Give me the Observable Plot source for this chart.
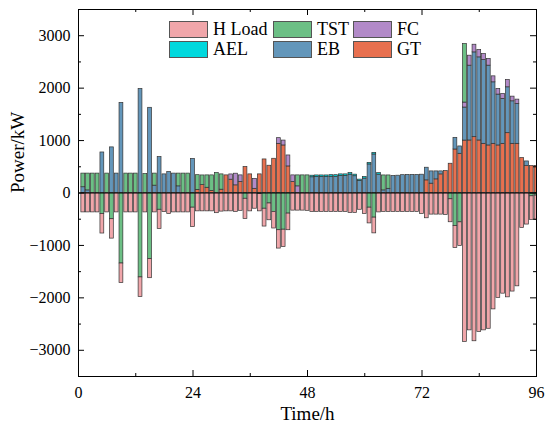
<!DOCTYPE html>
<html>
<head>
<meta charset="utf-8">
<script src="https://cdn.jsdelivr.net/npm/d3@7"></script>
<script src="https://cdn.jsdelivr.net/npm/@observablehq/plot@0.6"></script>
<style>
  body { margin: 0; background: #fff; }
  #wrap { position: relative; width: 550px; height: 434px; }
  #wrap svg text { font-family: "Liberation Serif", serif; font-variant-numeric: normal; }
  #legend { position: absolute; left: 169px; top: 21px; display: grid;
            grid-template-columns: 104px 80px 80px; row-gap: 3px;
            font-family: "Liberation Serif", serif; font-size: 18px; color: #000; }
  .item { display: flex; align-items: center; height: 17px; white-space: nowrap; }
  .sw { width: 37px; height: 15px; border: 1px solid #555; margin-right: 5px; }
</style>
</head>
<body>
<div id="wrap"><div id="legend"></div></div>
<script>
// ---- data (hour 1..96) ----
const hours = d3.range(1, 97);
const seriesNames = ["GT", "EB", "AEL", "FC", "TST", "H Load"];
const seriesColors = ["#E8704F", "#6396BA", "#00D8DD", "#B28AC8", "#6CBF85", "#F0A6AA"];
const legendOrder = ["H Load", "TST", "FC", "AEL", "EB", "GT"];
const xTickValues = [0, 24, 48, 72, 96];
const xMinorValues = [12, 36, 60, 84];
const yTickValues = [-3000, -2000, -1000, 0, 1000, 2000, 3000];
const yMinorValues = [-2500, -1500, -500, 500, 1500, 2500];

const GT = [0,0,0,0,0,0,0,0,0,0,0,0,0,0,0,0,0,0,0,0,0,0,0,0,
  60,150,100,40,0,63,336,254,146,209,495,355,80,355,640,520,653,938,907,507,209,0,0,0,
  0,0,0,0,0,0,0,0,0,0,0,0,0,0,0,0,0,0,0,0,0,0,0,0,
  241,178,260,355,418,558,830,748,1000,1002,1065,1002,938,907,938,907,938,1141,938,938,666,513,513,513];
const EB = [110,50,0,0,773,0,870,370,1718,0,0,0,1984,0,1625,140,685,355,400,370,127,0,0,650,
  0,0,0,0,0,0,0,0,0,0,0,0,0,0,0,0,0,0,0,0,0,0,0,0,
  300,305,305,305,310,310,325,325,350,320,230,275,545,735,350,50,80,323,330,340,345,345,345,349,
  241,234,152,57,0,0,222,140,630,1427,1617,1585,1598,1522,1173,970,856,875,811,761,0,89,0,0];
const AEL = [0,0,0,0,0,0,0,0,0,0,0,0,0,0,0,0,0,0,0,0,0,0,0,0,
  0,0,0,0,0,0,0,0,0,0,0,0,0,0,0,0,0,0,0,0,0,0,0,0,
  30,30,30,30,30,30,30,30,30,30,25,30,30,30,30,0,0,0,0,0,0,0,0,0,
  0,0,0,0,0,0,0,0,0,0,0,0,0,0,0,0,0,0,0,0,0,0,0,0];
const FC = [0,0,0,0,0,0,0,0,0,0,0,0,0,0,0,0,0,0,0,0,0,0,0,0,
  0,0,0,0,0,0,0,100,222,127,0,0,190,0,0,0,0,108,93,209,127,127,0,0,
  0,0,0,0,0,0,0,0,0,0,0,0,0,0,0,0,0,0,0,0,0,0,0,0,
  0,0,0,0,0,0,0,0,95,190,146,140,114,127,114,108,95,140,89,82,0,0,0,0];
const TST = [260,320,370,370,-400,370,-500,0,-1345,370,370,370,-1610,360,-1260,230,-320,0,0,0,243,370,370,-280,
  280,185,236,296,380,292,0,0,0,0,-110,0,0,-20,-300,-200,-360,-710,-700,-393,0,209,336,336,
  0,0,0,0,0,0,0,0,0,0,0,0,-280,-470,0,285,255,0,0,0,0,0,0,0,
  0,0,0,0,0,-120,-630,-560,1115,0,0,0,0,0,0,0,0,0,0,0,0,0,-63,-50];
const HLoad = [-370,-370,-370,-370,-373,-370,-370,-370,-373,-370,-370,-370,-374,-370,-365,-370,-365,-365,-400,-370,-370,-370,-370,-370,
  -350,-350,-350,-350,-385,-355,-350,-350,-360,-340,-385,-350,-300,-330,-340,-320,-317,-350,-330,-317,-336,-336,-336,-340,
  -361,-361,-361,-361,-361,-361,-361,-361,-380,-380,-320,-400,-300,-300,-370,-361,-361,-361,-361,-361,-361,-361,-361,-400,
  -482,-412,-412,-412,-418,-438,-420,-450,-2840,-2620,-2828,-2650,-2620,-2590,-2220,-2000,-1920,-1990,-1880,-1780,-666,-602,-450,-463];

const seriesValues = [GT, EB, AEL, FC, TST, HLoad];
const rows = [];
hours.forEach((t, i) => {
  seriesNames.forEach((s, k) => {
    const v = seriesValues[k][i];
    if (v !== 0) rows.push({t, s, v});
  });
});

const W = 550, H = 434, mL = 78, mR = 14, mT = 9, mB = 58;
const fh = H - mT - mB, fw = W - mL - mR;
const fmt = d => (d < 0 ? "\u2212" : "") + Math.abs(d);
const serif = "Liberation Serif, serif";

const chart = Plot.plot({
  width: W, height: H,
  marginLeft: mL, marginRight: mR, marginTop: mT, marginBottom: mB,
  style: {fontFamily: serif, fontSize: "16px", color: "#000", background: "#fff"},
  x: {domain: [0, 96]},
  y: {domain: [-3500, 3500]},
  color: {domain: seriesNames, range: seriesColors},
  marks: [
    Plot.rectY(rows, {x1: d => d.t - 0.4, x2: d => d.t + 0.4, y: "v", fill: "s",
                      stroke: "#333", strokeWidth: 0.7, clip: true}),
    Plot.ruleY([0], {stroke: "#000", strokeWidth: 1}),
    Plot.frame({stroke: "#000", strokeWidth: 1}),
    Plot.ruleX(xTickValues, {insetTop: fh - 6, stroke: "#000"}),
    Plot.ruleX(xTickValues, {insetBottom: fh - 6, stroke: "#000"}),
    Plot.ruleX(xMinorValues, {insetTop: fh - 3, stroke: "#000"}),
    Plot.ruleX(xMinorValues, {insetBottom: fh - 3, stroke: "#000"}),
    Plot.ruleY(yTickValues, {insetRight: fw - 6, stroke: "#000"}),
    Plot.ruleY(yTickValues, {insetLeft: fw - 6, stroke: "#000"}),
    Plot.ruleY(yMinorValues, {insetRight: fw - 3, stroke: "#000"}),
    Plot.ruleY(yMinorValues, {insetLeft: fw - 3, stroke: "#000"}),
    Plot.axisX({ticks: xTickValues, tickSize: 0, tickPadding: 10, label: null,
                tickFormat: fmt, fontFamily: serif, fontSize: 16}),
    Plot.axisY({ticks: yTickValues, tickSize: 0, tickPadding: 8, label: null,
                tickFormat: fmt, fontFamily: serif, fontSize: 16}),
    Plot.text(["Power/kW"], {frameAnchor: "left", dx: -61, rotate: -90, fontSize: 19, fontFamily: serif}),
    Plot.text(["Time/h"], {frameAnchor: "bottom", dy: 43, fontSize: 19, fontFamily: serif})
  ]
});
document.getElementById("wrap").prepend(chart);

const legend = document.getElementById("legend");
legendOrder.forEach(name => {
  const item = document.createElement("div");
  item.className = "item";
  const sw = document.createElement("div");
  sw.className = "sw";
  sw.style.background = seriesColors[seriesNames.indexOf(name)];
  const label = document.createElement("span");
  label.textContent = name;
  item.append(sw, label);
  legend.append(item);
});
</script>
</body>
</html>
